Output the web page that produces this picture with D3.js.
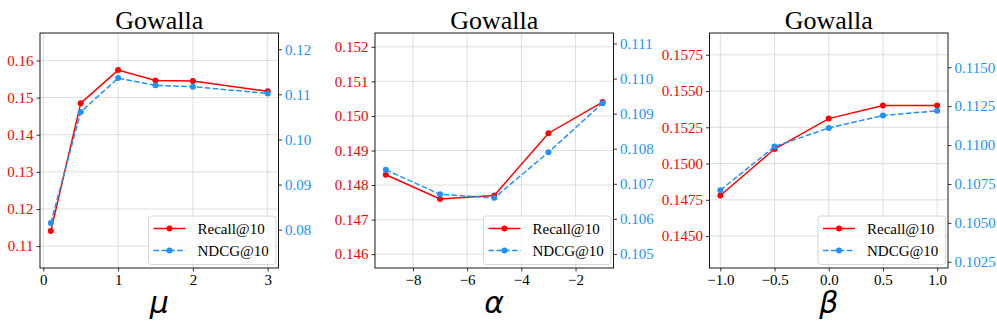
<!DOCTYPE html>
<html>
<head>
<meta charset="utf-8">
<script src="https://cdn.jsdelivr.net/npm/d3@7"></script>
<style>
  body { margin: 0; background: #fff; }
  svg text { font-family: "Liberation Serif", "Times New Roman", serif; }
  svg text.xlabel { font-family: "DejaVu Sans", sans-serif; font-style: italic; }
</style>
</head>
<body>
<div id="chart-area"></div>
<script>
// data
var muValues = [0.1, 0.5, 1, 1.5, 2, 3];
var recallMu = [0.1141, 0.1485, 0.1574, 0.1546, 0.1545, 0.1517];
var ndcgMu = [0.0815, 0.1061, 0.1136, 0.1120, 0.1117, 0.1102];

var alphaValues = [-9, -7, -5, -3, -1];
var recallAlpha = [0.1483, 0.1476, 0.1477, 0.1495, 0.1504];
var ndcgAlpha = [0.1074, 0.1067, 0.1066, 0.1079, 0.1093];

var betaValues = [-1, -0.5, 0, 0.5, 1];
var recallBeta = [0.1478, 0.1510, 0.1531, 0.1540, 0.1540];
var ndcgBeta = [0.1071, 0.1099, 0.1111, 0.1119, 0.1122];

var xTicksMu = [0, 1, 2, 3];
var xTicksAlpha = [-8, -6, -4, -2];
var xTicksBeta = [-1, -0.5, 0, 0.5, 1];

var leftTicksMu = [0.11, 0.12, 0.13, 0.14, 0.15, 0.16];
var rightTicksMu = [0.08, 0.09, 0.10, 0.11, 0.12];
var leftTicksAlpha = [0.146, 0.147, 0.148, 0.149, 0.150, 0.151, 0.152];
var rightTicksAlpha = [0.105, 0.106, 0.107, 0.108, 0.109, 0.110, 0.111];
var leftTicksBeta = [0.1450, 0.1475, 0.1500, 0.1525, 0.1550, 0.1575];
var rightTicksBeta = [0.1025, 0.1050, 0.1075, 0.1100, 0.1125, 0.1150];

var panels = [
	{x: muValues, recall: recallMu, ndcg: ndcgMu, xt: xTicksMu, xf: d3.format("d"),
	 lt: leftTicksMu, rt: rightTicksMu, yf: d3.format(".2f"), pad: 0.01, label: "μ"},
	{x: alphaValues, recall: recallAlpha, ndcg: ndcgAlpha, xt: xTicksAlpha, xf: d3.format("d"),
	 lt: leftTicksAlpha, rt: rightTicksAlpha, yf: d3.format(".3f"), pad: 0.002, label: "α"},
	{x: betaValues, recall: recallBeta, ndcg: ndcgBeta, xt: xTicksBeta, xf: d3.format(".1f"),
	 lt: leftTicksBeta, rt: rightTicksBeta, yf: d3.format(".4f"), pad: 0.005, label: "β"}
];

var lefts = [40, 375, 709.5];
var w = 238.5;
var h = 235;
var marginTop = 33;

var red = "#ff0000";
var blue = "#1e90ff";

var svg = d3.select("#chart-area").append("svg")
	.attr("width", 997)
	.attr("height", 332);

panels.forEach(function(p, i) {
	var g = svg.append("g")
		.attr("transform", "translate(" + lefts[i] + "," + marginTop + ")");

	var xr = d3.extent(p.x);
	var m = (xr[1] - xr[0]) * 0.05;
	var x = d3.scaleLinear().domain([xr[0] - m, xr[1] + m]).range([0, w]);

	var yl = d3.scaleLinear()
		.domain([d3.min(p.recall) - p.pad, d3.max(p.recall) + p.pad])
		.range([h, 0]);
	var yr = d3.scaleLinear()
		.domain([d3.min(p.ndcg) - p.pad, d3.max(p.ndcg) + p.pad])
		.range([h, 0]);

	// grid
	g.append("g").selectAll("line").data(p.lt).enter().append("line")
		.attr("x1", 0).attr("x2", w)
		.attr("y1", function(d) { return yl(d); })
		.attr("y2", function(d) { return yl(d); })
		.attr("stroke", "#b0b0b0").attr("stroke-opacity", 0.5).attr("stroke-width", 0.8);
	g.append("g").selectAll("line").data(p.xt).enter().append("line")
		.attr("y1", 0).attr("y2", h)
		.attr("x1", function(d) { return x(d); })
		.attr("x2", function(d) { return x(d); })
		.attr("stroke", "#b0b0b0").attr("stroke-opacity", 0.5).attr("stroke-width", 0.8);

	// axes
	var xAxis = g.append("g")
		.attr("transform", "translate(0," + h + ")")
		.call(d3.axisBottom(x).tickValues(p.xt).tickSize(3.5).tickPadding(3)
			.tickFormat(function(d) { return p.xf(d).replace("-", "\u2212"); }));
	var lAxis = g.append("g")
		.call(d3.axisLeft(yl).tickValues(p.lt).tickSize(3.5).tickPadding(3).tickFormat(p.yf));
	var rAxis = g.append("g")
		.attr("transform", "translate(" + w + ",0)")
		.call(d3.axisRight(yr).tickValues(p.rt).tickSize(3.5).tickPadding(3).tickFormat(p.yf));

	[xAxis, lAxis, rAxis].forEach(function(a) {
		a.select(".domain").remove();
		a.selectAll("line").attr("stroke", "#000").attr("stroke-width", 0.8);
		a.selectAll("text").attr("font-size", "15px");
	});
	xAxis.selectAll("text").attr("fill", "#000");
	lAxis.selectAll("text").attr("fill", red);
	rAxis.selectAll("text").attr("fill", blue);

	// lines
	var rows = p.x.map(function(v, j) { return {x: v, r: p.recall[j], n: p.ndcg[j]}; });

	g.append("path").datum(rows)
		.attr("fill", "none").attr("stroke", red).attr("stroke-width", 1.5)
		.attr("d", d3.line().x(function(d) { return x(d.x); }).y(function(d) { return yl(d.r); }));
	g.append("g").selectAll("circle").data(rows).enter().append("circle")
		.attr("cx", function(d) { return x(d.x); })
		.attr("cy", function(d) { return yl(d.r); })
		.attr("r", 3).attr("fill", red);

	g.append("path").datum(rows)
		.attr("fill", "none").attr("stroke", blue).attr("stroke-width", 1.5)
		.attr("stroke-dasharray", "5.5,2.4")
		.attr("d", d3.line().x(function(d) { return x(d.x); }).y(function(d) { return yr(d.n); }));
	g.append("g").selectAll("circle").data(rows).enter().append("circle")
		.attr("cx", function(d) { return x(d.x); })
		.attr("cy", function(d) { return yr(d.n); })
		.attr("r", 3).attr("fill", blue);

	// frame
	g.append("rect")
		.attr("width", w).attr("height", h)
		.attr("fill", "none").attr("stroke", "#000").attr("stroke-width", 0.9);

	// legend
	var lg = g.append("g").attr("transform", "translate(" + (w - 130) + "," + (h - 52) + ")");
	lg.append("rect")
		.attr("width", 127.5).attr("height", 48.5).attr("rx", 3)
		.attr("fill", "#fff").attr("fill-opacity", 0.8)
		.attr("stroke", "#cccccc").attr("stroke-width", 0.8);
	[{name: "Recall@10", c: red, dash: null}, {name: "NDCG@10", c: blue, dash: "5.5,2.4"}].forEach(function(s, k) {
		var row = lg.append("g").attr("transform", "translate(0," + (12.5 + k * 22) + ")");
		row.append("line")
			.attr("x1", 5).attr("x2", 37)
			.attr("stroke", s.c).attr("stroke-width", 1.5)
			.attr("stroke-dasharray", s.dash);
		row.append("circle").attr("cx", 21).attr("r", 3).attr("fill", s.c);
		row.append("text")
			.attr("x", 49).attr("y", 5)
			.attr("font-size", "15px")
			.text(s.name);
	});

	// title and axis label
	g.append("text")
		.attr("x", w / 2).attr("y", -4)
		.attr("text-anchor", "middle")
		.attr("font-size", "26px")
		.text("Gowalla");
	g.append("text")
		.attr("class", "xlabel")
		.attr("x", w / 2).attr("y", 280)
		.attr("text-anchor", "middle")
		.attr("font-size", "30px")
		.text(p.label);
});
</script>
</body>
</html>
